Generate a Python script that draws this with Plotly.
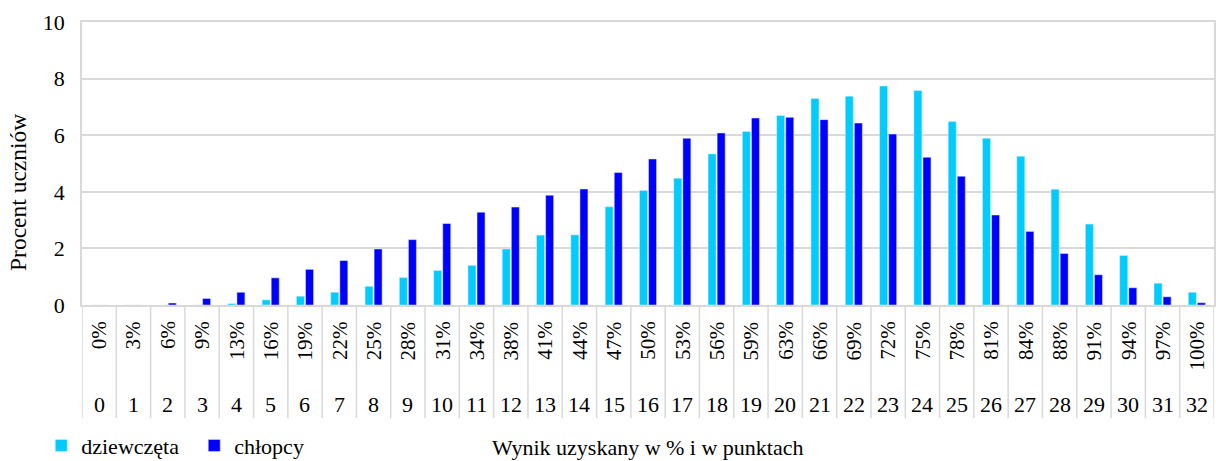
import plotly.graph_objects as go

points = list(range(33))
percent_labels = ["0%", "3%", "6%", "9%", "13%", "16%", "19%", "22%", "25%", "28%", "31%",
                  "34%", "38%", "41%", "44%", "47%", "50%", "53%", "56%", "59%", "63%", "66%",
                  "69%", "72%", "75%", "78%", "81%", "84%", "88%", "91%", "94%", "97%", "100%"]
girls = [0, 0, 0, 0, 0.05, 0.18, 0.31, 0.45, 0.66, 0.97, 1.22, 1.40, 1.98, 2.47, 2.48, 3.47,
         4.05, 4.48, 5.34, 6.13, 6.70, 7.30, 7.38, 7.74, 7.58, 6.48, 5.89, 5.26, 4.09, 2.86,
         1.75, 0.77, 0.45]
boys = [0, 0, 0.07, 0.23, 0.45, 0.96, 1.26, 1.57, 1.98, 2.31, 2.88, 3.28, 3.46, 3.88, 4.10,
        4.68, 5.16, 5.89, 6.08, 6.61, 6.63, 6.55, 6.43, 6.04, 5.22, 4.55, 3.18, 2.60, 1.82,
        1.07, 0.61, 0.29, 0.08]

FONT = "Liberation Serif, Times New Roman, serif"
GRID = "#d9d9d9"

fig = go.Figure()
fig.add_trace(go.Bar(x=points, y=girls, name="dziewczęta", marker_color="#00CCFF"))
fig.add_trace(go.Bar(x=points, y=boys, name="chłopcy", marker_color="#0000FF"))

shapes = []
for k in range(34):
    shapes.append(dict(type="line", xref="x", yref="paper", x0=k - 0.5, x1=k - 0.5,
                       y0=0, y1=-0.40, line=dict(color=GRID, width=1.5)))

annotations = []
for k, lab in zip(points, percent_labels):
    annotations.append(dict(x=k, y=-0.050, xref="x", yref="paper", text=lab, showarrow=False,
                            textangle=-90, yanchor="top", xanchor="center",
                            font=dict(family=FONT, size=21, color="black")))
    annotations.append(dict(x=k, y=-0.353, xref="x", yref="paper", text=str(k), showarrow=False,
                            yanchor="middle", xanchor="center",
                            font=dict(family=FONT, size=22, color="black")))
annotations.append(dict(x=0.5, y=-0.502, xref="paper", yref="paper",
                        text="Wynik uzyskany w % i w punktach", showarrow=False,
                        xanchor="center", yanchor="middle",
                        font=dict(family=FONT, size=22, color="black")))
annotations.append(dict(x=-0.0565, y=0.396, xref="paper", yref="paper",
                        text="Procent uczniów", showarrow=False, textangle=-90,
                        xanchor="center", yanchor="middle",
                        font=dict(family=FONT, size=23.5, color="black")))

fig.update_layout(
    width=1216, height=461,
    margin=dict(l=82, r=2, t=22, b=156, autoexpand=False),
    paper_bgcolor="white", plot_bgcolor="white",
    barmode="group", bargap=0.47, bargroupgap=0.12,
    font=dict(family=FONT, size=22, color="black"),
    shapes=shapes, annotations=annotations,
    showlegend=True,
    legend=dict(orientation="h", x=-0.036, y=-0.497, xanchor="left", yanchor="middle",
                font=dict(family=FONT, size=22, color="black"),
                itemwidth=30, entrywidth=108, entrywidthmode="pixels",
                tracegroupgap=0, borderwidth=0,
                bgcolor="rgba(0,0,0,0)"),
    xaxis=dict(range=[-0.5, 32.5], showticklabels=False, showgrid=False, zeroline=False,
               showline=True, mirror=True, linecolor=GRID, linewidth=1.5, ticks=""),
    yaxis=dict(range=[0, 10], dtick=2, tick0=0, showgrid=True, gridcolor=GRID, gridwidth=1.5,
               zeroline=False, showline=True, mirror=True, linecolor=GRID, linewidth=1.5,
               ticks="", ticklabelstandoff=11,
               tickfont=dict(family=FONT, size=22, color="black")),
)

fig.write_html("out.html", config={"displayModeBar": False},
               post_script="document.body.style.margin='0';")
